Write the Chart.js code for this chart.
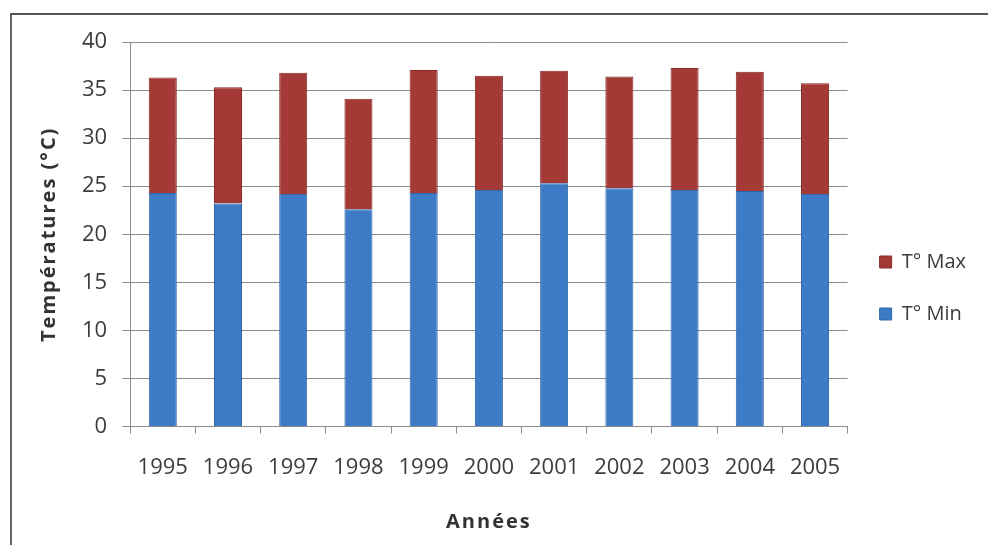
<!DOCTYPE html>
<html>
<head>
<meta charset="utf-8">
<script src="https://cdn.jsdelivr.net/npm/chart.js@4.4.0/dist/chart.umd.min.js"></script>
<style>
  html, body { margin: 0; padding: 0; background: #fff; }
  #wrap { position: relative; width: 988px; height: 545px; }
  #frame { position: absolute; left: 10px; top: 13px; width: 990px; height: 540px;
           border-top: 2px solid #555; border-left: 2px solid #666; }
  canvas { position: absolute; left: 0; top: 0; }
</style>
</head>
<body>
<div id="wrap">
  <div id="frame"></div>
  <canvas id="tempChart" width="988" height="545"></canvas>
</div>
<script>
// années et températures (°C)
var annees = ['1995', '1996', '1997', '1998', '1999', '2000', '2001', '2002', '2003', '2004', '2005'];
var tMin = [24.3, 23.2, 24.2, 22.6, 24.3, 24.6, 25.3, 24.8, 24.6, 24.5, 24.2];
var tMax = [36.3, 35.3, 36.8, 34.1, 37.1, 36.5, 37.0, 36.4, 37.3, 36.9, 35.7];
var yTicks = [0, 5, 10, 15, 20, 25, 30, 35, 40];

// la barre rouge est empilée sur la bleue : on garde l'écart max - min
var ecart = tMax.map(function(v, i) { return +(v - tMin[i]).toFixed(1); });

var gridColor = '#8c8c8c';
var textColor = '#3c3c3c';
var tickFont = { family: 'Open Sans', size: 22 };
var titleFont = { family: 'Open Sans', size: 20, weight: 'bold' };

// titres d'axes espacés comme dans Excel
var titleSpacing = {
    id: 'titleSpacing',
    beforeDraw: function(chart) {
        ['x', 'y'].forEach(function(id) {
            var s = chart.scales[id];
            if (!s || s._spaced) return;
            var orig = s.drawTitle;
            s.drawTitle = function() {
                var ctx = this.ctx;
                ctx.save();
                ctx.letterSpacing = '2px';
                orig.apply(this, arguments);
                ctx.restore();
            };
            s._spaced = true;
        });
    }
};

var config = {
    type: 'bar',
    data: {
        labels: annees,
        datasets: [
            {
                label: 'T° Min',
                data: tMin,
                backgroundColor: '#3e7bc6',
                borderColor: '#3066aa',
                borderWidth: 1,
                barPercentage: 0.43,
                categoryPercentage: 1
            },
            {
                label: 'T° Max',
                data: ecart,
                backgroundColor: '#a33a36',
                borderColor: '#882a27',
                borderWidth: 1,
                barPercentage: 0.43,
                categoryPercentage: 1
            }
        ]
    },
    options: {
        responsive: false,
        animation: false,
        layout: { padding: { left: 37, right: 12, top: 42, bottom: 11 } },
        plugins: {
            tooltip: { enabled: false },
            legend: {
                position: 'right',
                reverse: true,
                labels: {
                    color: textColor,
                    font: { family: 'Open Sans', size: 20 },
                    boxWidth: 12,
                    boxHeight: 12,
                    padding: 32
                }
            }
        },
        scales: {
            x: {
                stacked: true,
                grid: { display: true, drawOnChartArea: false, drawTicks: true, tickLength: 7, color: gridColor },
                border: { color: gridColor },
                ticks: { color: textColor, font: tickFont, padding: 21, maxRotation: 0, autoSkip: false },
                title: {
                    display: true,
                    text: 'Années',
                    color: '#333',
                    font: titleFont,
                    padding: { top: 8, bottom: 0 }
                }
            },
            y: {
                stacked: true,
                min: 0,
                max: 40,
                afterBuildTicks: function(axis) {
                    axis.ticks = yTicks.map(function(v) { return { value: v }; });
                },
                grid: { color: gridColor, tickLength: 8 },
                border: { color: gridColor },
                ticks: { color: textColor, font: tickFont, padding: 15 },
                title: {
                    display: true,
                    text: 'Températures (°C)',
                    color: '#333',
                    font: titleFont,
                    padding: { top: 0, bottom: 6 }
                }
            }
        }
    },
    plugins: [titleSpacing]
};

var canvas = document.getElementById('tempChart');
var tempChart = new Chart(canvas, config);
tempChart.draw();
</script>
</body>
</html>
